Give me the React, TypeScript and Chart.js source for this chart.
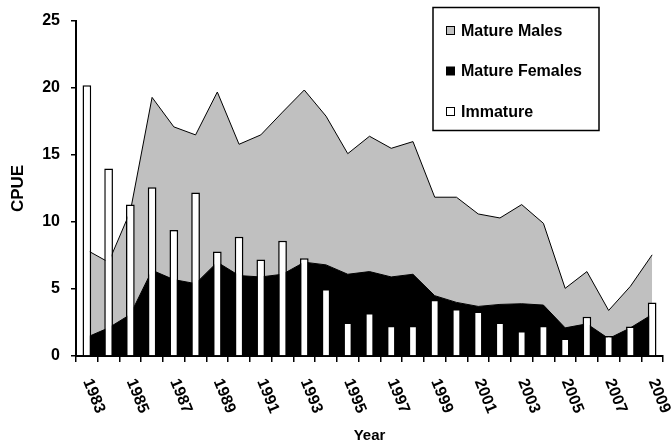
import React, { useEffect, useRef } from 'react';
import { Chart, registerables } from 'chart.js';

Chart.register(...registerables);

const years = ['1983', '1984', '1985', '1986', '1987', '1988', '1989', '1990', '1991', '1992', '1993', '1994', '1995', '1996', '1997', '1998', '1999', '2000', '2001', '2002', '2003', '2004', '2005', '2006', '2007', '2008', '2009'];
const xTickLabels = ['1983', '1985', '1987', '1989', '1991', '1993', '1995', '1997', '1999', '2001', '2003', '2005', '2007', '2009'];
const yTicks = [0, 5, 10, 15, 20, 25];

const matureFemales = [1.4, 2.1, 3.1, 6.4, 5.7, 5.4, 7.0, 6.0, 5.9, 6.1, 7.0, 6.8, 6.1, 6.3, 5.9, 6.1, 4.5, 4.0, 3.7, 3.85, 3.9, 3.8, 2.1, 2.4, 1.3, 2.1, 3.1];
const matureMales = [6.5, 4.9, 7.7, 12.9, 11.4, 11.1, 12.7, 9.8, 10.6, 12.1, 12.85, 11.1, 9.0, 10.1, 9.6, 9.9, 7.35, 7.85, 6.9, 6.45, 7.4, 6.1, 2.95, 3.9, 2.1, 3.1, 4.45];
const immature = [20.2, 14.0, 11.3, 12.6, 9.4, 12.2, 7.8, 8.9, 7.2, 8.6, 7.3, 5.0, 2.5, 3.2, 2.25, 2.25, 4.2, 3.5, 3.33, 2.5, 1.87, 2.25, 1.3, 2.93, 1.5, 2.2, 4.0];
const legendOrder = ['Mature Males', 'Mature Females', 'Immature'];

const FONT = "'Liberation Sans', Arial, sans-serif";

const xLabelPlugin = {
  id: 'rotatedXLabels',
  afterDraw(chart: any) {
    const ctx = chart.ctx;
    const xs = chart.scales.x;
    ctx.save();
    ctx.font = `bold 16px ${FONT}`;
    ctx.fillStyle = '#000';
    ctx.textAlign = 'center';
    ctx.textBaseline = 'middle';
    xTickLabels.forEach((lbl) => {
      const i = years.indexOf(lbl);
      const x = xs.getPixelForValue(i) + 7;
      const y = xs.top + 40;
      ctx.save();
      ctx.translate(x, y);
      ctx.rotate((68 * Math.PI) / 180);
      ctx.fillText(lbl, 0, 0);
      ctx.restore();
    });
    ctx.restore();
  },
};

const boxLegendPlugin = {
  id: 'boxLegend',
  afterDraw(chart: any) {
    const ctx = chart.ctx;
    ctx.save();
    ctx.fillStyle = '#fff';
    ctx.fillRect(433, 7.5, 166, 123);
    ctx.lineWidth = 1.5;
    ctx.strokeStyle = '#000';
    ctx.strokeRect(433, 7.5, 166, 123);
    ctx.font = `bold 16px ${FONT}`;
    ctx.textAlign = 'left';
    ctx.textBaseline = 'middle';
    legendOrder.forEach((label, k) => {
      const ds = chart.data.datasets.find((d: any) => d.label === label);
      const cy = 30.5 + k * 40.5;
      ctx.fillStyle = ds.backgroundColor;
      ctx.fillRect(446.5, cy - 4, 8, 8);
      ctx.lineWidth = 1;
      ctx.strokeStyle = '#000';
      ctx.strokeRect(446.5, cy - 4, 8, 8);
      ctx.fillStyle = '#000';
      ctx.fillText(label, 461, cy + 1);
    });
    ctx.restore();
  },
};

export default function App() {
  const ref = useRef<HTMLCanvasElement>(null);

  useEffect(() => {
    document.body.style.margin = '0';
    const chart = new Chart(ref.current as HTMLCanvasElement, {
      type: 'bar',
      data: {
        labels: years,
        datasets: [
          {
            type: 'line',
            label: 'Mature Females',
            data: matureFemales,
            stack: 'mature',
            order: 1,
            backgroundColor: '#000000',
            borderColor: '#000000',
            borderWidth: 1,
            fill: 'origin',
            pointRadius: 0,
            tension: 0,
          },
          {
            type: 'line',
            label: 'Mature Males',
            data: matureMales,
            stack: 'mature',
            order: 2,
            backgroundColor: '#C0C0C0',
            borderColor: '#000000',
            borderWidth: 1,
            fill: '-1',
            pointRadius: 0,
            tension: 0,
          },
          {
            type: 'bar',
            label: 'Immature',
            data: immature,
            stack: 'imm',
            order: 0,
            backgroundColor: '#FFFFFF',
            borderColor: '#000000',
            borderWidth: 1.5,
            barPercentage: 0.4,
            categoryPercentage: 1,
          },
        ] as any,
      },
      options: {
        responsive: false,
        devicePixelRatio: 1,
        animation: false,
        layout: { padding: { top: 21, right: 8, left: 0, bottom: 0 } },
        plugins: {
          legend: { display: false },
          tooltip: { enabled: false },
        },
        scales: {
          x: {
            stacked: false,
            offset: true,
            grid: {
              offset: true,
              drawOnChartArea: false,
              drawTicks: true,
              tickLength: 6,
              color: '#000',
              lineWidth: 1.5,
            },
            border: { display: true, color: '#000', width: 2 },
            ticks: { display: false },
            title: {
              display: true,
              text: 'Year',
              color: '#000',
              font: { family: FONT, size: 15, weight: 'bold' },
              padding: { top: 0, bottom: 2 },
            },
            afterFit(scale: any) {
              scale.height = 91;
              scale.paddingLeft = 0;
              scale.paddingRight = 0;
            },
          },
          y: {
            stacked: true,
            min: 0,
            max: 25,
            afterBuildTicks(scale: any) {
              scale.ticks = yTicks.map((v) => ({ value: v }));
            },
            grid: {
              drawOnChartArea: false,
              drawTicks: true,
              tickLength: 5,
              color: '#000',
              lineWidth: 1.5,
            },
            border: { display: true, color: '#000', width: 2 },
            ticks: {
              color: '#000',
              padding: 11,
              font: { family: FONT, size: 16, weight: 'bold' },
            },
            title: {
              display: true,
              text: 'CPUE',
              color: '#000',
              font: { family: FONT, size: 17, weight: 'bold' },
              padding: { top: 8, bottom: 0 },
            },
            afterFit(scale: any) {
              scale.width = 76;
              scale.paddingTop = 0;
              scale.paddingBottom = 0;
            },
          },
        },
      } as any,
      plugins: [xLabelPlugin, boxLegendPlugin],
    });
    return () => chart.destroy();
  }, []);

  return (
    <div style={{ position: 'relative', width: 671, height: 447 }}>
      <canvas ref={ref} width={671} height={447} style={{ display: 'block' }} />
    </div>
  );
}
